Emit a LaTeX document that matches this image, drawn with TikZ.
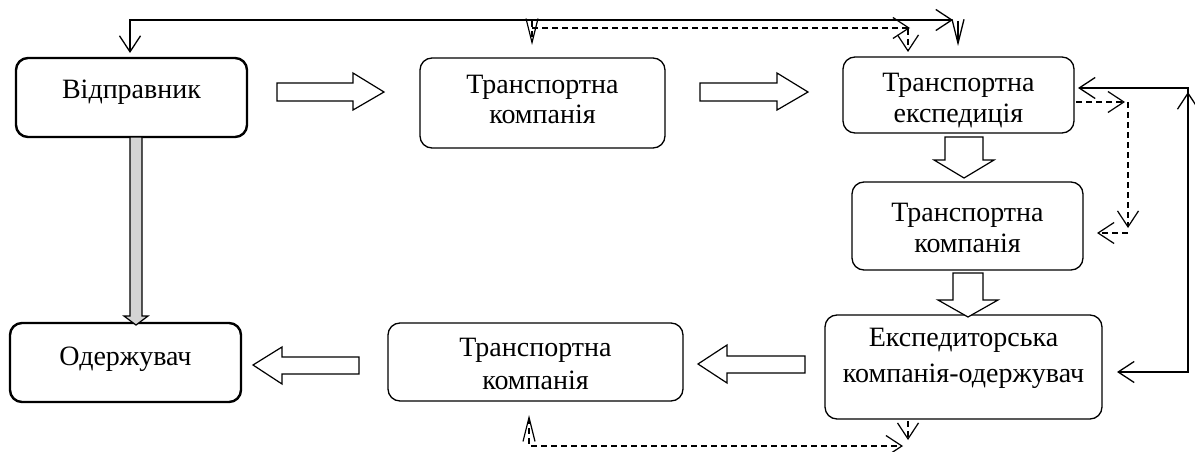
\documentclass[tikz,border=0pt]{standalone}
\usepackage{fontspec}
\setmainfont{Liberation Serif}
\usetikzlibrary{arrows.meta}
\tikzset{
  wbarb/.tip={Straight Barb[length=16pt,width=21pt]},
  nbarb/.tip={Straight Barb[length=24pt,width=12pt]},
  box/.style={draw, rounded corners=12pt, line width=1.3pt, align=center, inner sep=0pt,
    font=\fontsize{28}{31}\selectfont},
  thickbox/.style={box, line width=2.4pt},
  blockarrow/.style={draw, line width=1.2pt, fill=white, line join=miter},
  grayarrow/.style={draw, line width=1.2pt, fill=black!17, line join=miter},
  thinline/.style={line width=1.3pt},
  dashline/.style={line width=1.2pt, dash pattern=on 6pt off 4pt},
}
\begin{document}
\begin{tikzpicture}[x=1pt,y=-1pt]
\useasboundingbox (0,0) rectangle (1195,452);

% boxes (text height/depth place the last baseline)
\node[thickbox, minimum width=231pt, minimum height=79pt, text height=20pt, text depth=18pt] (A) at (131.5,97.5) {Відправник};
\node[box, minimum width=245pt, minimum height=90pt, text height=48pt, text depth=6pt] (B) at (542.5,103) {Транспортна\\компанія};
\node[box, minimum width=231pt, minimum height=76pt, text height=58pt, text depth=4pt] (C) at (958.5,95) {Транспортна\\експедиція};
\node[box, minimum width=231pt, minimum height=88pt, text height=56pt, text depth=4pt] (D) at (967.5,226) {Транспортна\\компанія};
\node[box, minimum width=277pt, minimum height=104pt, text height=40pt, text depth=10pt,
  font=\fontsize{28}{36}\selectfont] (E) at (963.5,367) {Експедиторська\\компанія-одержувач};
\node[box, minimum width=295pt, minimum height=78pt, text height=58pt, text depth=4pt,
  font=\fontsize{28}{33}\selectfont] (F) at (535.5,362) {Транспортна\\компанія};
\node[thickbox, minimum width=231pt, minimum height=79pt, text height=20pt, text depth=15pt] (G) at (125.5,362.5) {Одержувач};

% block arrows
\draw[blockarrow] (277,83) -- (353,83) -- (353,73) -- (384,92) -- (353,110) -- (353,101) -- (277,101) -- cycle;
\draw[blockarrow] (700,83) -- (777,83) -- (777,73) -- (808,92) -- (777,110) -- (777,101) -- (700,101) -- cycle;
\draw[blockarrow] (945,137) -- (983,137) -- (983,160) -- (994,160) -- (964,178) -- (934,160) -- (945,160) -- cycle;
\draw[blockarrow] (953,273) -- (983,273) -- (983,300) -- (998,300) -- (968,317) -- (938,300) -- (953,300) -- cycle;
\draw[blockarrow] (805,356) -- (727,356) -- (727,345) -- (698,364) -- (727,383) -- (727,373) -- (805,373) -- cycle;
\draw[blockarrow] (359,357) -- (282,357) -- (282,347) -- (253,365) -- (282,384) -- (282,374) -- (359,374) -- cycle;
\draw[grayarrow] (130,137) -- (142,137) -- (142,316) -- (148,316) -- (136,325) -- (124,316) -- (130,316) -- cycle;

% named points for thin connectors
\coordinate (tl) at (130,20);
\coordinate (tr) at (953,20);
\coordinate (aTop) at (130,53);
\coordinate (cTop) at (958,46);
\coordinate (cTopS) at (958,21);
\coordinate (dl) at (532,28);
\coordinate (dr) at (910,28);
\coordinate (bTop) at (532,45);
\coordinate (bTopS) at (532,21);
\coordinate (cTop2) at (908,52);
\coordinate (cTop2S) at (908,29);
\coordinate (cR1) at (1076,102);
\coordinate (cR2) at (1125,102);
\coordinate (vR1) at (1128,102);
\coordinate (vR2) at (1128,228);
\coordinate (hR1) at (1128,233);
\coordinate (hR2) at (1097,233);
\coordinate (eR) at (1117,372);
\coordinate (rc1) at (1188,372);
\coordinate (rc2) at (1188,88);
\coordinate (cR) at (1078,88);
\coordinate (rUp) at (1188,92);
\coordinate (rUpS) at (1188,112);
\coordinate (fB) at (529,415);
\coordinate (bl) at (529,446);
\coordinate (br) at (903,446);
\coordinate (eB1) at (908,421);
\coordinate (eB2) at (908,440);

% solid top connector
\draw[thinline, wbarb-wbarb] (aTop) -- (tl) -- (tr);
\draw[thinline, -nbarb] (cTopS) -- (cTop);
% dashed top connector
\draw[dashline, -wbarb] (dl) -- (dr);
\draw[dashline, -nbarb] (bTopS) -- (bTop);
\draw[dashline, -wbarb] (cTop2S) -- (cTop2);
% right dashed connectors
\draw[dashline, -wbarb] (cR1) -- (cR2);
\draw[dashline, -wbarb] (vR1) -- (vR2);
\draw[dashline, -wbarb] (hR1) -- (hR2);
% right solid connector
\draw[thinline, wbarb-wbarb] (eR) -- (rc1) -- (rc2) -- (cR);
\draw[thinline, -wbarb] (rUpS) -- (rUp);
% bottom dashed connector
\draw[dashline, nbarb-wbarb] (fB) -- (bl) -- (br);
\draw[dashline, -wbarb] (eB1) -- (eB2);
\end{tikzpicture}
\end{document}
